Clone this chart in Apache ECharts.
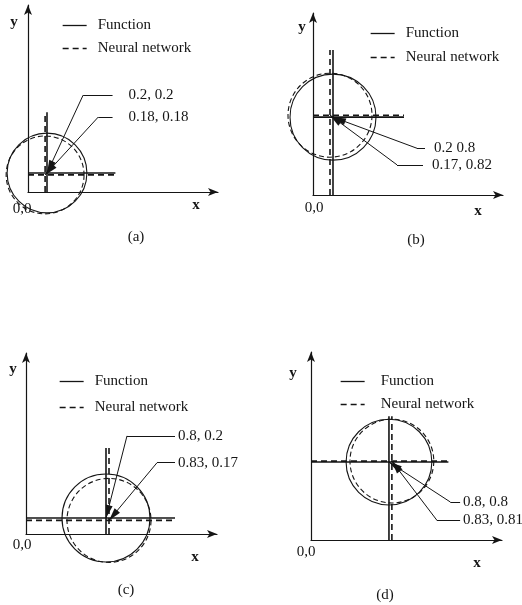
<!DOCTYPE html>
<html>
<head>
<meta charset="utf-8">
<script src="https://cdn.jsdelivr.net/npm/echarts@6/dist/echarts.min.js"></script>
<style>
html,body{margin:0;padding:0;background:#fff;}
#chart{width:522px;height:605px;}
</style>
</head>
<body>
<div id="chart"></div>
<script>
// ---------- data ----------
const panelLabels = ['(a)', '(b)', '(c)', '(d)'];
const seriesNames = ['Function', 'Neural network'];
const funcX = [0.2, 0.2, 0.8, 0.8];
const funcY = [0.2, 0.8, 0.2, 0.8];
const nnX = [0.18, 0.17, 0.83, 0.83];
const nnY = [0.18, 0.82, 0.17, 0.81];
const funcLabels = ['0.2, 0.2', '0.2 0.8', '0.8, 0.2', '0.8, 0.8'];
const nnLabels = ['0.18, 0.18', '0.17, 0.82', '0.83, 0.17', '0.83, 0.81'];
const funcRadius = [0.42, 0.43, 0.44, 0.44];
const nnRadius = [0.41, 0.42, 0.42, 0.43];
const crossTopY = [0.84, 1.49, 1.075, 1.27];
const crossEndX = [0.92, 0.91, 1.49, 1.41];
const funcElbow = [[0.58, 1.02], [1.04, 0.48], [1.01, 1.225], [1.43, 0.39]];
const nnElbow = [[0.74, 0.79], [0.84, 0.31], [1.31, 0.89], [1.29, 0.205]];
const funcLeaderEndX = [0.89, 1.12, 1.49, 1.53];
const nnLeaderEndX = [0.89, 1.10, 1.49, 1.53];
const xMax = [2.0, 1.9, 1.91, 1.96];
const yMax = [1.97, 1.87, 2.26, 1.93];

// ---------- layout ----------
const gridLeft = [28, 313, 26, 311];
const gridTop = [5, 13, 353, 352];
const gridW = [190, 190, 191, 191];
const gridH = [187, 182, 181, 188];
const legendLeft = [62, 370, 59, 340];
const legendTop = [18, 26, 374, 374];
const legendGap = [8, 9, 11, 8];
const legendTextPad = [6, 6, 6, 11];
const labelGap = [16, 9, 3, 3];
const yNamePos = [[14, 22], [302, 27], [13, 369], [293, 373]];
const xNamePos = [[196, 205], [478, 211], [195, 557], [477, 563]];
const originPos = [[22, 209], [314, 208], [22, 545], [306, 552]];
const titlePos = [[136, 237], [416, 240], [126, 590], [385, 595]];

const ink = '#151515';
const FONT = 'Liberation Serif';
// narrow filled arrowhead whose tip sits at the symbol centre
const ARROW = 'path://M4,0L4,0M4,14L8,28L0,28Z';

const chart = echarts.init(document.getElementById('chart'));

const grid = [], xAxis = [], yAxis = [], legend = [], series = [], graphic = [];
const axisCommon = (i, max) => ({
  gridIndex: i, type: 'value', min: 0, max: max,
  axisLine: { show: true, onZero: false, symbol: ['none', 'arrow'], symbolSize: [6, 10],
              lineStyle: { color: ink, width: 1.2 } },
  axisTick: { show: false }, axisLabel: { show: false }, splitLine: { show: false }
});

function circleSeries(i, cx, cy, r, dashed) {
  return {
    type: 'custom', coordinateSystem: 'cartesian2d', xAxisIndex: i, yAxisIndex: i,
    silent: true, animation: false, clip: false,
    data: [[cx, cy, r]],
    renderItem: function (params, api) {
      const c = api.coord([api.value(0), api.value(1)]);
      const rad = api.size([api.value(2), 0])[0];
      return {
        type: 'circle', shape: { cx: c[0], cy: c[1], r: rad },
        style: { fill: 'none', stroke: ink, lineWidth: 1.1, lineDash: dashed ? [5, 3] : null }
      };
    }
  };
}

function lineSeries(i, name, data, dashed) {
  return {
    type: 'line', name: name, xAxisIndex: i, yAxisIndex: i, data: data,
    symbol: 'none', silent: true, animation: false,
    lineStyle: { color: ink, width: 1.6, type: dashed ? [6, 4] : 'solid' },
    itemStyle: { color: ink }
  };
}

for (let i = 0; i < 4; i++) {
  grid.push({ left: gridLeft[i], top: gridTop[i], width: gridW[i], height: gridH[i] });
  xAxis.push(axisCommon(i, xMax[i]));
  yAxis.push(axisCommon(i, yMax[i]));
  legend.push({
    data: seriesNames, orient: 'vertical', left: legendLeft[i], top: legendTop[i],
    itemWidth: 24, itemHeight: 12, itemGap: legendGap[i], selectedMode: false, padding: 0,
    itemStyle: { opacity: 0 },
    lineStyle: { width: 1.3 },
    textStyle: { fontFamily: FONT, fontSize: 15, color: ink, padding: [0, 0, 0, legendTextPad[i]] }
  });
}

// line series first so legends take their icons from them
for (let i = 0; i < 4; i++) {
  series.push(lineSeries(i, seriesNames[0], [[0, funcY[i]], [crossEndX[i], funcY[i]]], false));
  series.push(lineSeries(i, seriesNames[1], [[0, nnY[i]], [crossEndX[i], nnY[i]]], true));
  series.push(lineSeries(i, seriesNames[0], [[funcX[i], 0], [funcX[i], crossTopY[i]]], false));
  series.push(lineSeries(i, seriesNames[1], [[nnX[i], 0], [nnX[i], crossTopY[i]]], true));
}
for (let i = 0; i < 4; i++) {
  series.push(circleSeries(i, funcX[i], funcY[i], funcRadius[i], false));
  series.push(circleSeries(i, nnX[i], nnY[i], nnRadius[i], true));
  const lbl = (text) => ({
    show: true, formatter: text, position: 'end', distance: labelGap[i],
    fontFamily: FONT, fontSize: 15, color: ink
  });
  series.push({
    type: 'line', xAxisIndex: i, yAxisIndex: i, data: [], silent: true, animation: false,
    markLine: {
      silent: true, animation: false, symbol: ['none', 'none'],
      lineStyle: { color: ink, width: 1, type: 'solid' },
      label: { show: false },
      emphasis: { disabled: true },
      data: [
        [{ coord: [funcX[i], funcY[i]], symbol: ARROW, symbolSize: [7, 26] }, { coord: funcElbow[i], symbol: 'none' }],
        [{ coord: funcElbow[i], label: lbl(funcLabels[i]) }, { coord: [funcLeaderEndX[i], funcElbow[i][1]] }],
        [{ coord: [nnX[i], nnY[i]], symbol: ARROW, symbolSize: [7, 26] }, { coord: nnElbow[i], symbol: 'none' }],
        [{ coord: nnElbow[i], label: lbl(nnLabels[i]) }, { coord: [nnLeaderEndX[i], nnElbow[i][1]] }]
      ]
    }
  });
  const txt = (t, p, bold) => ({
    type: 'text', x: p[0], y: p[1], silent: true,
    style: { text: t, fill: ink, font: (bold ? 'bold ' : '') + '15px "' + FONT + '"',
             textAlign: 'center', textVerticalAlign: 'middle' }
  });
  graphic.push(txt('y', yNamePos[i], true));
  graphic.push(txt('x', xNamePos[i], true));
  graphic.push(txt('0,0', originPos[i], false));
  graphic.push(txt(panelLabels[i], titlePos[i], false));
}

chart.setOption({
  backgroundColor: '#ffffff',
  animation: false,
  grid, xAxis, yAxis, legend, series, graphic
});
</script>
</body>
</html>
